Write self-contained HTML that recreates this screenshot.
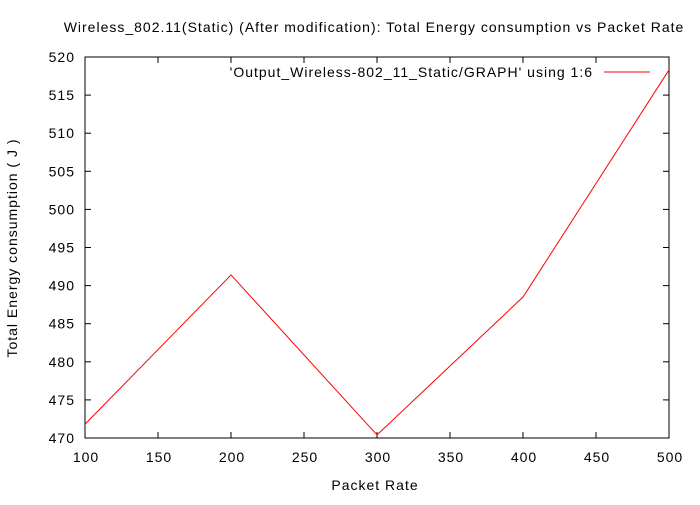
<!DOCTYPE html>
<html><head><meta charset="utf-8"><style>
body{margin:0;background:#fff;}
svg text{font-family:"Liberation Sans",sans-serif;font-size:14px;fill:#000;letter-spacing:1px;}
</style></head><body>
<svg id="chart" width="700" height="500" xmlns="http://www.w3.org/2000/svg">
<text x="374" y="32" text-anchor="middle">Wireless_802.11(Static) (After modification): Total Energy consumption vs Packet Rate</text>
<text x="375" y="490" text-anchor="middle">Packet Rate</text>
<text transform="translate(17,248) rotate(-90)" text-anchor="middle">Total Energy consumption ( J )</text>
<g id="axes"></g>
<g id="series"></g>
<text x="593" y="77" text-anchor="end">'Output_Wireless-802_11_Static/GRAPH' using 1:6</text>
<line x1="604" y1="72" x2="650" y2="72" stroke="#f00" stroke-width="1"/>
</svg>
<script>
const packetRates=[100,200,300,400,500];
const energy=[471.8,491.4,470.4,488.5,518.3];
const xTicks=[100,150,200,250,300,350,400,450,500];
const yTicks=[470,475,480,485,490,495,500,505,510,515,520];
const L=85,R=669,T=57,B=438,xMin=100,xMax=500,yMin=470,yMax=520;
const NS="http://www.w3.org/2000/svg";
const sx=v=>L+(v-xMin)/(xMax-xMin)*(R-L);
const sy=v=>B-(v-yMin)/(yMax-yMin)*(B-T);
const axes=document.getElementById('axes');
function mk(tag,attrs,parent){const e=document.createElementNS(NS,tag);for(const k in attrs)e.setAttribute(k,attrs[k]);parent.appendChild(e);return e;}
const frame=mk('rect',{x:L,y:T,width:R-L,height:B-T,fill:'none',stroke:'#000','stroke-width':1},axes);


xTicks.forEach(t=>{const x=sx(t);
 mk('line',{x1:x,y1:B,x2:x,y2:B-6,stroke:'#000'},axes);
 mk('line',{x1:x,y1:T,x2:x,y2:T+6,stroke:'#000'},axes);
 const tx=mk('text',{x:x+1,y:B+24,'text-anchor':'middle'},axes);tx.textContent=t;
 
 
});
yTicks.forEach(t=>{const y=sy(t);
 mk('line',{x1:L,y1:y,x2:L+6,y2:y,stroke:'#000'},axes);
 mk('line',{x1:R,y1:y,x2:R-6,y2:y,stroke:'#000'},axes);
 const tx=mk('text',{x:L-10,y:y+5,'text-anchor':'end'},axes);tx.textContent=t;
 
 
});
const pts=packetRates.map((p,i)=>sx(p)+','+sy(energy[i])).join(' ');
const line=mk('polyline',{points:pts,fill:'none',stroke:'#f00','stroke-width':1},document.getElementById('series'));


</script>
</body></html>
